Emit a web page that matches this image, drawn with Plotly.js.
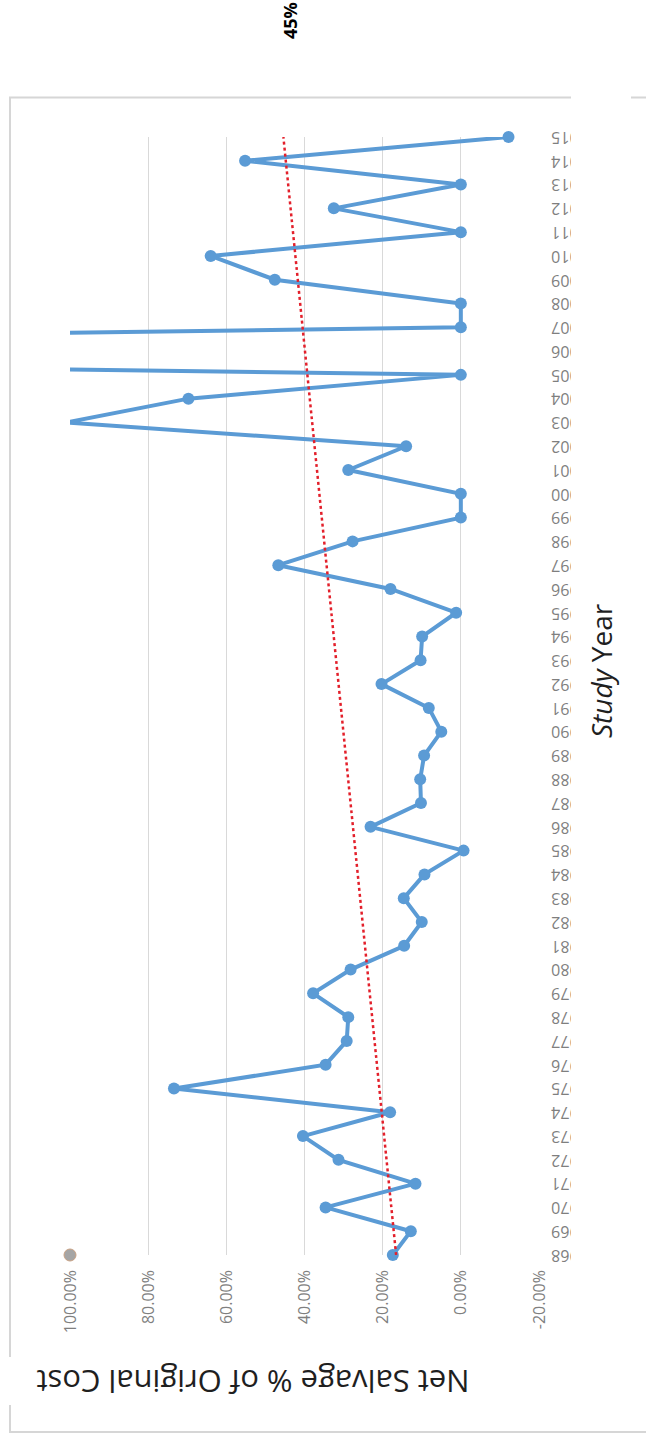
<!DOCTYPE html>
<html>
<head>
<meta charset="utf-8">
<script src="https://cdn.plot.ly/plotly-3.0.1.min.js"></script>
<style>
  html, body { margin: 0; padding: 0; background: #ffffff; width: 646px; height: 1437px; overflow: hidden; }
  /* the chart is laid out landscape and turned a quarter-turn counter-clockwise */
  #chart { position: absolute; left: 0; top: 0; width: 1437px; height: 646px;
           transform-origin: 0 0; transform: translateY(1437px) rotate(-90deg); }
</style>
</head>
<body>
<div id="chart"></div>
<script>
// Study years on the category axis
const studyYears = [
  1968, 1969, 1970, 1971, 1972, 1973, 1974, 1975, 1976, 1977, 1978, 1979,
  1980, 1981, 1982, 1983, 1984, 1985, 1986, 1987, 1988, 1989, 1990, 1991,
  1992, 1993, 1994, 1995, 1996, 1997, 1998, 1999, 2000, 2001, 2002, 2003,
  2004, 2005, 2006, 2007, 2008, 2009, 2010, 2011, 2012, 2013, 2014, 2015
];

// Net salvage as a fraction of original cost, one value per study year
const netSalvage = [
  0.174, 0.128, 0.346, 0.116, 0.313, 0.404, 0.181, 0.734, 0.346, 0.292, 0.288, 0.378,
  0.282, 0.145, 0.100, 0.146, 0.093, -0.007, 0.231, 0.102, 0.104, 0.094, 0.050, 0.082,
  0.203, 0.103, 0.099, 0.012, 0.180, 0.467, 0.277, 0.000, 0.000, 0.288, 0.140, 1.010,
  0.697, 0.000, 4.400, 0.000, 0.000, 0.476, 0.640, 0.000, 0.325, 0.000, 0.552, -0.122
];

// Single reference point
const referenceYears = [1968];
const referenceValues = [1.0];

// Value axis ticks
const valueTicks = [-0.2, 0, 0.2, 0.4, 0.6, 0.8, 1.0];
const valueTickLabels = ['-20.00%', '0.00%', '20.00%', '40.00%', '60.00%', '80.00%', '100.00%'];
const valueRange = [-0.2, 1.0];

// Ordinary least-squares line through all study years
function linearFit(xs, ys) {
  const n = xs.length;
  const mx = xs.reduce((a, b) => a + b, 0) / n;
  const my = ys.reduce((a, b) => a + b, 0) / n;
  let sxy = 0, sxx = 0;
  for (let i = 0; i < n; i++) {
    sxy += (xs[i] - mx) * (ys[i] - my);
    sxx += (xs[i] - mx) * (xs[i] - mx);
  }
  const slope = sxy / sxx;
  return { slope: slope, intercept: my - slope * mx };
}
const fit = linearFit(studyYears, netSalvage);
const trendYears = [studyYears[0], studyYears[studyYears.length - 1]];
const trendValues = trendYears.map(x => fit.intercept + fit.slope * x);
const trendEndLabel = Math.round(trendValues[1] * 100) + '%';

// Page geometry (landscape before the turn)
const W = 1437, H = 646;
const M = { l: 182, r: 137, t: 70, b: 107 };
const fx = px => (px - M.l) / (W - M.l - M.r);
const fy = py => (H - M.b - py) / (H - M.t - M.b);

const blue = '#5b9bd5';
const font = 'Open Sans, sans-serif';

// points above the top of the value axis get no marker
const markerSizes = netSalvage.map(v => (v <= valueRange[1] ? 12 : 0));

const traces = [
  {
    type: 'scatter', mode: 'lines', x: studyYears, y: netSalvage,
    line: { color: blue, width: 4 }, hoverinfo: 'skip'
  },
  {
    type: 'scatter', mode: 'markers', x: studyYears, y: netSalvage,
    marker: { color: blue, size: markerSizes, opacity: 1, line: { width: 0 } },
    cliponaxis: false
  },
  {
    type: 'scatter', mode: 'markers', x: referenceYears, y: referenceValues,
    marker: { color: '#a5a5a5', size: 12, opacity: 1, line: { color: '#c8a184', width: 1 } },
    cliponaxis: false
  },
  {
    type: 'scatter', mode: 'lines', x: trendYears, y: trendValues,
    line: { color: '#e3202b', width: 2.5, dash: 'dot' }
  }
];

const layout = {
  width: W, height: H,
  margin: M,
  paper_bgcolor: '#ffffff',
  plot_bgcolor: '#ffffff',
  showlegend: false,
  font: { family: font, color: '#7f7f7f' },
  xaxis: {
    range: [studyYears[0], studyYears[studyYears.length - 1]],
    tick0: studyYears[0], dtick: 1, tickmode: 'linear',
    tickangle: -90, ticks: '', ticklabelstandoff: 8,
    showgrid: false, zeroline: false, showline: false,
    tickfont: { family: font, size: 16, color: '#7f7f7f' }
  },
  yaxis: {
    range: valueRange,
    tickmode: 'array', tickvals: valueTicks, ticktext: valueTickLabels,
    ticks: '', ticklabelstandoff: 14,
    showgrid: true, gridcolor: '#d9d9d9', gridwidth: 1.3,
    zeroline: false, showline: false,
    tickfont: { family: font, size: 16, color: '#7f7f7f' }
  },
  shapes: [
    // outer chart frame
    { type: 'rect', xref: 'paper', yref: 'paper', layer: 'below',
      x0: fx(5), x1: fx(1339.5), y0: fy(700), y1: fy(10),
      line: { color: '#d6d6d6', width: 2 }, fillcolor: 'rgba(0,0,0,0)' },
    // title boxes
    { type: 'rect', xref: 'paper', yref: 'paper', layer: 'above',
      x0: fx(150), x1: fx(1352), y0: fy(631), y1: fy(571),
      line: { width: 0 }, fillcolor: '#ffffff' },
    { type: 'rect', xref: 'paper', yref: 'paper', layer: 'above',
      x0: fx(32), x1: fx(80), y0: fy(490), y1: fy(0),
      line: { width: 0 }, fillcolor: '#ffffff' }
  ],
  annotations: [
    { text: 'Net Salvage % of Original Cost', textangle: -90, showarrow: false,
      xref: 'paper', yref: 'paper', x: fx(55), y: fy(253.5),
      xanchor: 'center', yanchor: 'middle',
      font: { family: font, size: 31, color: '#1f1f1f' } },
    { text: '<i>Study</i> Year', showarrow: false,
      xref: 'paper', yref: 'paper', x: fx(766), y: fy(601),
      xanchor: 'center', yanchor: 'middle',
      font: { family: font, size: 28, color: '#1f1f1f' } },
    { text: '<b>' + trendEndLabel + '</b>', showarrow: false,
      xref: 'paper', yref: 'y', x: fx(1416), y: trendValues[1], yshift: -7,
      xanchor: 'center', yanchor: 'middle',
      font: { family: font, size: 18, color: '#000000' } }
  ]
};

Plotly.newPlot('chart', traces, layout, { staticPlot: true, displayModeBar: false, responsive: false });
</script>
</body>
</html>
